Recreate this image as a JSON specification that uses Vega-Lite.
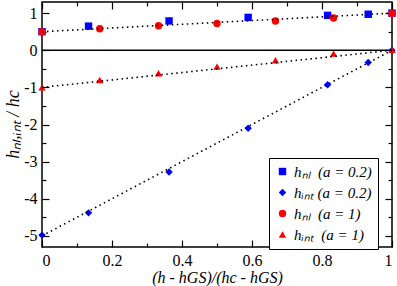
{
  "$schema": "https://vega.github.io/schema/vega-lite/v6.json",
  "width": 350,
  "height": 245,
  "autosize": {"type": "none"},
  "padding": {"left": 42, "top": 2, "right": 5, "bottom": 39},
  "config": {
    "view": {"stroke": "#000", "strokeWidth": 1.5},
    "font": "'Liberation Serif', 'Times New Roman', serif",
    "axis": {
      "grid": false, "domain": false, "tickColor": "#000", "tickWidth": 1.2,
      "labelFont": "'Liberation Serif', 'Times New Roman', serif", "labelFontSize": 16, "labelColor": "#000",
      "titleFont": "'Liberation Serif', 'Times New Roman', serif", "titleFontStyle": "italic", "titleFontWeight": "normal", "titleColor": "#000"
    },
    "legend": {
      "orient": "none", "legendX": 227, "legendY": 156,
      "strokeColor": "#000", "fillColor": "#fff", "padding": 6,
      "labelFont": "'Liberation Serif', 'Times New Roman', serif", "labelFontStyle": "italic", "labelFontSize": 15, "labelColor": "#000",
      "symbolSize": 55, "rowPadding": 5, "symbolOpacity": 1
    }
  },
  "datasets": {
    "pts": [
      {"x": 0, "y": 0.5, "s": "hₙₗ\u00a0\u00a0(a = 0.2)"},
      {"x": 0.133, "y": 0.65, "s": "hₙₗ\u00a0\u00a0(a = 0.2)"},
      {"x": 0.363, "y": 0.79, "s": "hₙₗ\u00a0\u00a0(a = 0.2)"},
      {"x": 0.589, "y": 0.885, "s": "hₙₗ\u00a0\u00a0(a = 0.2)"},
      {"x": 0.816, "y": 0.94, "s": "hₙₗ\u00a0\u00a0(a = 0.2)"},
      {"x": 0.932, "y": 0.97, "s": "hₙₗ\u00a0\u00a0(a = 0.2)"},
      {"x": 1, "y": 1, "s": "hₙₗ\u00a0\u00a0(a = 0.2)"},
      {"x": 0, "y": -4.98, "s": "hᵢₙₜ (a = 0.2)"},
      {"x": 0.133, "y": -4.38, "s": "hᵢₙₜ (a = 0.2)"},
      {"x": 0.363, "y": -3.28, "s": "hᵢₙₜ (a = 0.2)"},
      {"x": 0.589, "y": -2.1, "s": "hᵢₙₜ (a = 0.2)"},
      {"x": 0.816, "y": -0.93, "s": "hᵢₙₜ (a = 0.2)"},
      {"x": 0.932, "y": -0.33, "s": "hᵢₙₜ (a = 0.2)"},
      {"x": 1, "y": 0, "s": "hᵢₙₜ (a = 0.2)"},
      {"x": 0, "y": 0.5, "s": "hₙₗ\u00a0\u00a0(a = 1)"},
      {"x": 0.165, "y": 0.58, "s": "hₙₗ\u00a0\u00a0(a = 1)"},
      {"x": 0.333, "y": 0.66, "s": "hₙₗ\u00a0\u00a0(a = 1)"},
      {"x": 0.5, "y": 0.72, "s": "hₙₗ\u00a0\u00a0(a = 1)"},
      {"x": 0.667, "y": 0.79, "s": "hₙₗ\u00a0\u00a0(a = 1)"},
      {"x": 0.833, "y": 0.87, "s": "hₙₗ\u00a0\u00a0(a = 1)"},
      {"x": 1, "y": 0.99, "s": "hₙₗ\u00a0\u00a0(a = 1)"},
      {"x": 0, "y": -1, "s": "hᵢₙₜ\u00a0\u00a0(a = 1)"},
      {"x": 0.165, "y": -0.8, "s": "hᵢₙₜ\u00a0\u00a0(a = 1)"},
      {"x": 0.333, "y": -0.62, "s": "hᵢₙₜ\u00a0\u00a0(a = 1)"},
      {"x": 0.5, "y": -0.44, "s": "hᵢₙₜ\u00a0\u00a0(a = 1)"},
      {"x": 0.667, "y": -0.27, "s": "hᵢₙₜ\u00a0\u00a0(a = 1)"},
      {"x": 0.833, "y": -0.09, "s": "hᵢₙₜ\u00a0\u00a0(a = 1)"},
      {"x": 1, "y": 0.01, "s": "hᵢₙₜ\u00a0\u00a0(a = 1)"}
    ],
    "fits": [
      {"x": 0, "y": 0, "f": "zero"},
      {"x": 1, "y": 0, "f": "zero"},
      {"x": 0, "y": -5, "f": "a02"},
      {"x": 1, "y": 0, "f": "a02"},
      {"x": 0, "y": 0.5, "f": "nl1"},
      {"x": 1, "y": 1, "f": "nl1"},
      {"x": 0, "y": -1, "f": "int1"},
      {"x": 1, "y": 0, "f": "int1"}
    ]
  },
  "layer": [
    {
      "data": {"name": "fits"},
      "transform": [{"filter": "datum.f == 'zero'"}],
      "mark": {"type": "line", "color": "#000", "strokeWidth": 1.5},
      "encoding": {
        "x": {"field": "x", "type": "quantitative", "scale": {"domain": [0, 1], "nice": false, "zero": false},
              "axis": {"orient": "top", "values": [0, 0.2, 0.4, 0.6, 0.8, 1], "labels": false, "tickSize": -7, "title": null}},
        "y": {"field": "y", "type": "quantitative", "scale": {"domain": [-5.3, 1.3], "nice": false, "zero": false},
              "axis": {"orient": "right", "values": [-5, -4, -3, -2, -1, 0, 1], "labels": false, "tickSize": -7, "title": null}}
      }
    },
    {
      "data": {"name": "pts"},
      "mark": {"type": "point", "filled": true, "opacity": 1, "size": 55},
      "encoding": {
        "x": {"field": "x", "type": "quantitative", "scale": {"domain": [0, 1], "nice": false, "zero": false},
              "axis": {"orient": "bottom", "values": [0.1, 0.3, 0.5, 0.7, 0.9], "labels": false, "tickSize": -4, "title": null}},
        "y": {"field": "y", "type": "quantitative", "scale": {"domain": [-5.3, 1.3], "nice": false, "zero": false},
              "axis": {"orient": "left", "values": [-4.5, -3.5, -2.5, -1.5, -0.5, 0.5], "labels": false, "tickSize": -4, "title": null}},
        "color": {"field": "s", "type": "nominal", "sort": null,
                  "scale": {"domain": ["hₙₗ\u00a0\u00a0(a = 0.2)", "hᵢₙₜ (a = 0.2)", "hₙₗ\u00a0\u00a0(a = 1)", "hᵢₙₜ\u00a0\u00a0(a = 1)"], "range": ["#0000ff", "#0000ff", "#ff0000", "#ff0000"]},
                  "legend": {"title": null}},
        "shape": {"field": "s", "type": "nominal", "sort": null,
                  "scale": {"domain": ["hₙₗ\u00a0\u00a0(a = 0.2)", "hᵢₙₜ (a = 0.2)", "hₙₗ\u00a0\u00a0(a = 1)", "hᵢₙₜ\u00a0\u00a0(a = 1)"], "range": ["square", "diamond", "circle", "triangle-up"]},
                  "legend": {"title": null}}
      }
    },
    {
      "data": {"name": "fits"},
      "transform": [{"filter": "datum.f == 'a02'"}],
      "mark": {"type": "line", "color": "#000", "strokeDash": [1.5, 3.5], "strokeWidth": 1.6},
      "encoding": {
        "x": {"field": "x", "type": "quantitative", "scale": {"domain": [0, 1], "nice": false, "zero": false},
              "axis": {"orient": "bottom", "values": [0, 0.2, 0.4, 0.6, 0.8, 1], "tickSize": -7, "labelPadding": 12,
                       "labelExpr": "'' + datum.value",
                       "title": "(h - hGS)/(hc - hGS)", "titleFontSize": 16, "titleY": 30, "titleBaseline": "middle"}},
        "y": {"field": "y", "type": "quantitative", "scale": {"domain": [-5.3, 1.3], "nice": false, "zero": false},
              "axis": {"orient": "left", "values": [-5, -4, -3, -2, -1, 0, 1], "tickSize": -7, "labelPadding": 12,
                       "labelExpr": "'' + datum.value",
                       "title": "hₙₗ,ᵢₙₜ / hc", "titleFontSize": 18, "titleX": -29, "titleY": 122, "titleBaseline": "middle"}}
      }
    },
    {
      "data": {"name": "fits"},
      "transform": [{"filter": "datum.f == 'nl1' || datum.f == 'int1'"}],
      "mark": {"type": "line", "color": "#000", "strokeDash": [1.5, 3.5], "strokeWidth": 1.6},
      "encoding": {
        "detail": {"field": "f", "type": "nominal"},
        "x": {"field": "x", "type": "quantitative", "scale": {"domain": [0, 1], "nice": false, "zero": false},
              "axis": {"orient": "top", "values": [0.1, 0.3, 0.5, 0.7, 0.9], "labels": false, "tickSize": -4, "title": null}},
        "y": {"field": "y", "type": "quantitative", "scale": {"domain": [-5.3, 1.3], "nice": false, "zero": false},
              "axis": {"orient": "right", "values": [-4.5, -3.5, -2.5, -1.5, -0.5, 0.5], "labels": false, "tickSize": -4, "title": null}}
      }
    }
  ],
  "resolve": {"axis": {"x": "independent", "y": "independent"}}
}
